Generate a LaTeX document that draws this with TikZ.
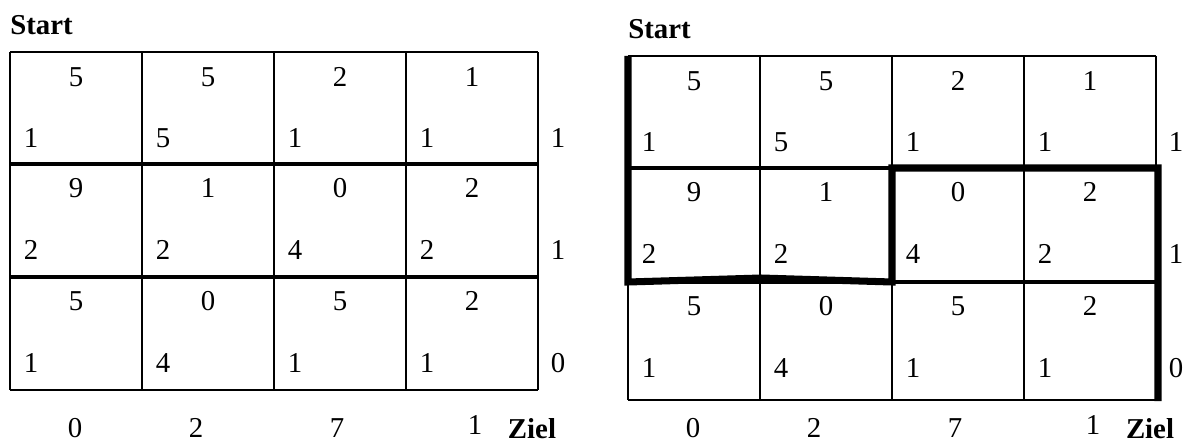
\documentclass[tikz,border=0pt]{standalone}
\usepackage{fontspec}
\setmainfont{Liberation Serif}

\begin{document}
\begin{tikzpicture}[
    font=\fontsize{20.5}{24}\selectfont,
    cellline/.style={draw=black, line width=1.9pt},
    rowline/.style={draw=black, line width=3pt},
    pathline/.style={draw=black, line width=5pt, line join=miter},
    val/.style={inner sep=0pt},
    corner/.style={font=\fontsize{20.5}{24}\selectfont\bfseries, inner sep=0pt}
]
\useasboundingbox (0,0) rectangle (29.7,11.075);
\def\W{3.3}
% two grids: name / left edge / row lines from top to bottom
\foreach \g/\ox/\ya/\yb/\yc/\yd in {L/0.25/9.775/6.975/4.15/1.325, R/15.7/9.675/6.875/4.025/1.075} {
    \foreach \k in {0,...,4}
        \draw[cellline] (\ox+\k*\W,\ya) -- (\ox+\k*\W,\yd);
    \draw[cellline] (\ox,\ya) -- (\ox+4*\W,\ya);
    \draw[cellline] (\ox,\yd) -- (\ox+4*\W,\yd);
    \draw[rowline] (\ox,\yb) -- (\ox+4*\W,\yb);
    \draw[rowline] (\ox,\yc) -- (\ox+4*\W,\yc);

    % row 1
    \foreach \c/\t/\b in {1/5/1,2/5/5,3/2/1,4/1/1} {
        \node[val] (\g-t-1-\c) at (\ox+\c*\W-1.65,\ya-0.625) {\t};
        \node[val] (\g-b-1-\c) at (\ox+\c*\W-2.775,\ya-2.15) {\b};
    }
    \node[val] (\g-s-1) at (\ox+13.7,\ya-2.15) {1};

    % row 2
    \foreach \c/\t/\b in {1/9/2,2/1/2,3/0/4,4/2/2} {
        \node[val] (\g-t-2-\c) at (\ox+\c*\W-1.65,\yb-0.6) {\t};
        \node[val] (\g-b-2-\c) at (\ox+\c*\W-2.775,\yb-2.15) {\b};
    }
    \node[val] (\g-s-2) at (\ox+13.7,\yb-2.15) {1};

    % row 3
    \foreach \c/\t/\b in {1/5/1,2/0/4,3/5/1,4/2/1} {
        \node[val] (\g-t-3-\c) at (\ox+\c*\W-1.65,\yc-0.6) {\t};
        \node[val] (\g-b-3-\c) at (\ox+\c*\W-2.775,\yc-2.15) {\b};
    }
    \node[val] (\g-s-3) at (\ox+13.7,\yc-2.15) {0};

    % bottom row of numbers
    \foreach \c/\dx/\dy/\v in {1/1.625/0.375/0,2/4.65/0.375/2,3/8.175/0.375/7,4/11.625/0.45/1}
        \node[val] (\g-f-\c) at (\ox+\dx,\dy) {\v};

    \node[corner, anchor=west] (\g-start) at (\ox,\ya+0.67) {Start};
    \node[corner] (\g-ziel) at (\ox+13.05,0.36) {Ziel};
}

% chosen way through the right grid
\draw[pathline] (15.7,9.675) -- (15.7,4.025) -- (19.025,4.125) -- (22.3,4.025)
    -- (22.3,6.875) -- (28.95,6.875) -- (28.95,1.05);
\end{tikzpicture}
\end{document}
